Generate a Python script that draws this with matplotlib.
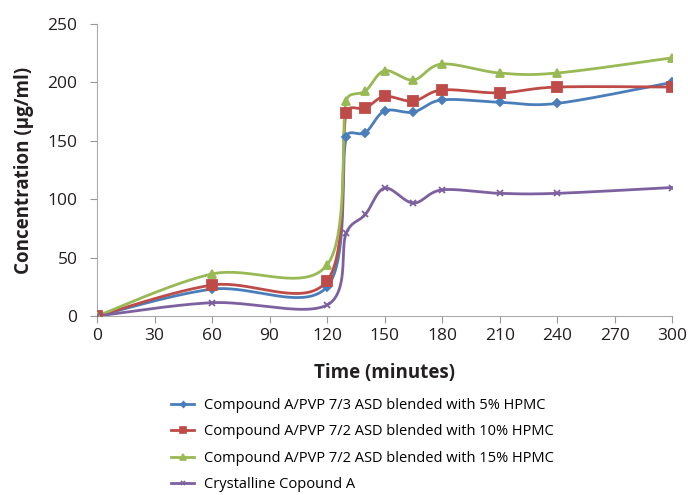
import numpy as np
import matplotlib
matplotlib.use("Agg")
import matplotlib.pyplot as plt

plt.rcParams['font.family'] = ['Open Sans', 'DejaVu Sans']

time = [0, 60, 120, 130, 140, 150, 165, 180, 210, 240, 300]
s5 = [0, 23, 25, 153, 157, 175.5, 174.6, 185, 183, 182, 200]
s10 = [0, 26.5, 30, 174, 178, 188, 184, 193.5, 191, 196, 196]
s15 = [0, 36, 43.7, 184, 192.6, 210, 202, 215.7, 208, 208, 221]
cryst = [0, 11.4, 9.4, 71, 87, 109.5, 96.7, 108, 105, 105, 110]

labels = ["Compound A/PVP 7/3 ASD blended with 5% HPMC",
          "Compound A/PVP 7/2 ASD blended with 10% HPMC",
          "Compound A/PVP 7/2 ASD blended with 15% HPMC",
          "Crystalline Copound A"]
xticks = list(range(0, 301, 30))
yticks = [0, 50, 100, 150, 200, 250]

colors = ["#4a7ebb", "#be4b48", "#98b954", "#7d60a0"]
markers = ["D", "s", "^", "x"]
msizes = [4, 7, 6, 5]

sx, sy = 575 / 300, 292 / 250


def smooth(x, y, n=40):
    # Excel-like smoothed line (Bezier through the points) in pixel-proportional space
    P = np.column_stack([np.asarray(x, float) * sx, np.asarray(y, float) * sy])
    out = []
    for i in range(len(P) - 1):
        p0 = P[i - 1] if i > 0 else P[i]
        p1, p2 = P[i], P[i + 1]
        p3 = P[i + 2] if i + 2 < len(P) else P[i + 1]
        L = np.linalg.norm(p2 - p1)
        v1 = (p2 - p0) / 6
        v2 = (p3 - p1) / 6
        lim = 0.5 * L
        if np.linalg.norm(v1) > lim:
            v1 = v1 * lim / np.linalg.norm(v1)
        if np.linalg.norm(v2) > lim:
            v2 = v2 * lim / np.linalg.norm(v2)
        c1 = p1 + v1
        c2 = p2 - v2
        t = np.linspace(0, 1, n)[:, None]
        seg = ((1 - t) ** 3) * p1 + 3 * ((1 - t) ** 2) * t * c1 + 3 * (1 - t) * t ** 2 * c2 + t ** 3 * p2
        out.append(seg if i == 0 else seg[1:])
    out = np.vstack(out)
    return out[:, 0] / sx, out[:, 1] / sy


fig = plt.figure(figsize=(6.88, 4.95), dpi=100)
ax = fig.add_axes([0.141, 0.3616, 0.836, 0.59])

for ys, c, m, ms, lab in zip([s5, s10, s15, cryst], colors, markers, msizes, labels):
    xs, yy = smooth(time, ys)
    ax.plot(xs, yy, color=c, lw=2, zorder=2)
    ax.plot(time, ys, linestyle='none', marker=m, color=c, ms=ms, mew=1.3, zorder=3)
    ax.plot([], [], color=c, lw=2, marker=m, ms=ms * 0.7, mew=1.2, label=lab)

ax.set_xlim(0, 300)
ax.set_ylim(0, 250)
ax.set_xticks(xticks)
ax.set_yticks(yticks)
ax.tick_params(axis='both', labelsize=12.5, colors='#999999', labelcolor='#231f20', length=5)
ax.tick_params(axis='y', pad=9)
for s in ['top', 'right']:
    ax.spines[s].set_visible(False)
for s in ['left', 'bottom']:
    ax.spines[s].set_color('#aaaaaa')
ax.set_xlabel("Time (minutes)", fontsize=13.5, fontweight='bold', color='#231f20', labelpad=14)
ax.set_ylabel("Concentration (µg/ml)", fontsize=13.5, fontweight='bold', color='#231f20', labelpad=10)

fig.legend(loc='upper left', bbox_to_anchor=(0.24, 0.208), frameon=False, fontsize=10.5,
           handlelength=1.6, handletextpad=0.7, labelspacing=0.78, borderaxespad=0)

fig.savefig("out.png", dpi=100)
